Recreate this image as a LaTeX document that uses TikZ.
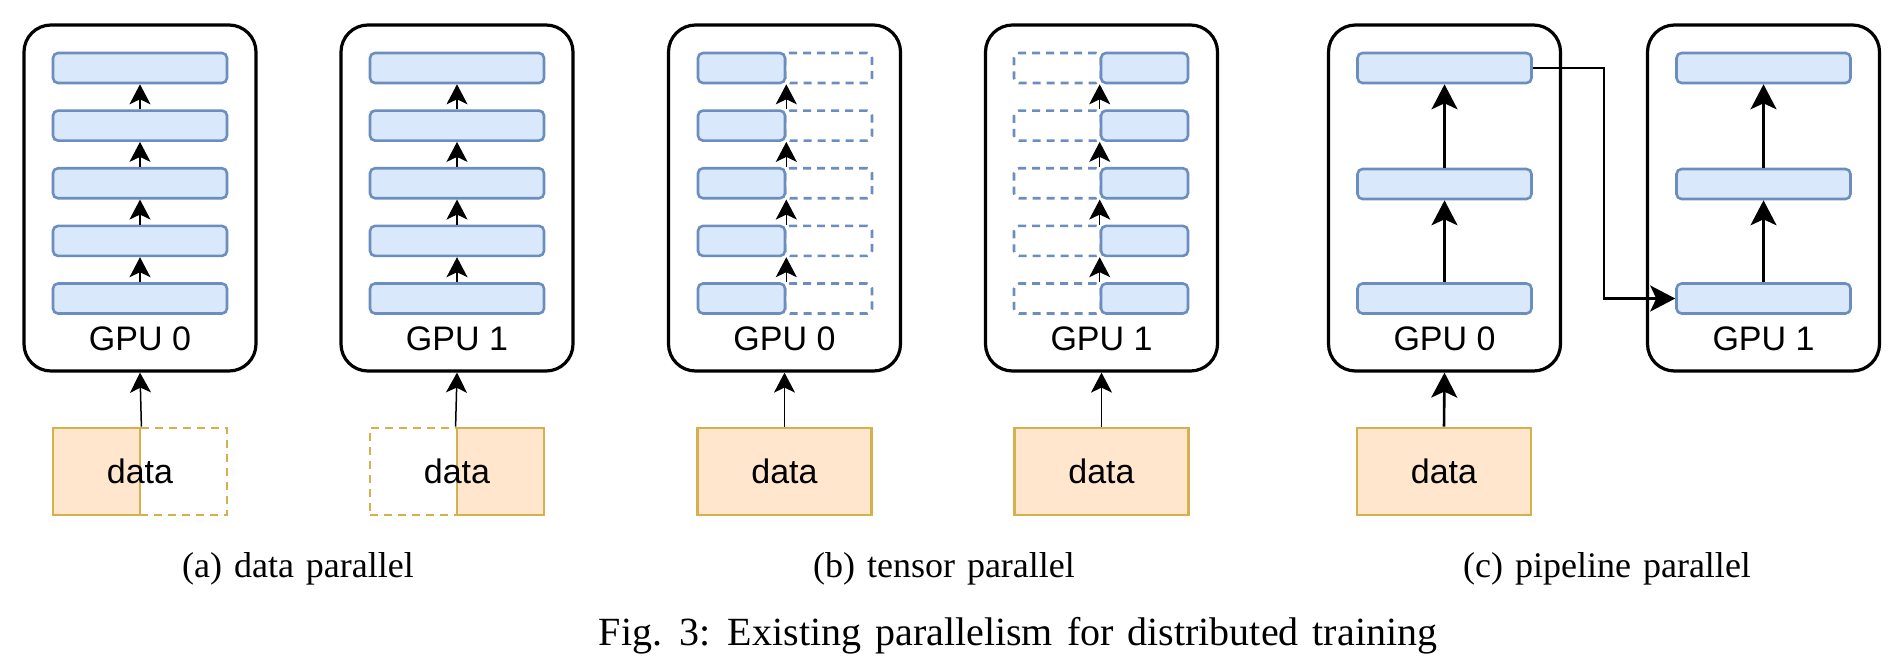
\documentclass[tikz,border=0pt]{standalone}
\usepackage{fontspec}
\setmainfont{Liberation Serif}
\newfontfamily\arialf{Liberation Sans}
\usetikzlibrary{arrows.meta}
\definecolor{lfill}{HTML}{DAE8FC}
\definecolor{ldraw}{HTML}{6C8EBF}
\definecolor{dfill}{HTML}{FFE6CC}
\definecolor{ddraw}{HTML}{D6B04E}
\newcommand\mysubcapfont{\fontsize{18}{20}\selectfont\spaceskip=6pt plus 1pt\relax}
\newcommand\mymaincapfont{\fontsize{20}{22}\selectfont\spaceskip=7pt plus 1pt\relax}
\tikzset{
  gpubox/.style={draw=black, line width=1.6pt, rounded corners=13.5pt, minimum width=116pt, minimum height=173pt, inner sep=0pt, fill=white},
  layer/.style={draw=ldraw, fill=lfill, line width=1.3pt, rounded corners=2.5pt, minimum width=87pt, minimum height=15pt, inner sep=0pt},
  halflayer/.style={layer, minimum width=43.5pt},
  ghostlayer/.style={draw=ldraw, line width=1.3pt, rounded corners=2.5pt, minimum width=43.5pt, minimum height=15pt, inner sep=0pt, dash pattern=on 4pt off 3pt},
  databox/.style={draw=ddraw, fill=dfill, line width=1.4pt, minimum width=87pt, minimum height=43.5pt, inner sep=0pt, font=\arialf\fontsize{17}{19}\selectfont},
  halfdata/.style={draw=ddraw, fill=dfill, line width=1.4pt, minimum width=43.5pt, minimum height=43.5pt, inner sep=0pt},
  ghostdata/.style={draw=ddraw, line width=1.4pt, minimum width=43.5pt, minimum height=43.5pt, inner sep=0pt, dash pattern=on 4pt off 3pt},
  lbl/.style={font=\arialf\fontsize{17}{19}\selectfont, inner sep=0pt},
  arr/.style={-{Stealth[length=10pt,width=10.5pt,inset=2.5pt]}, line width=0.75pt},
  arrc/.style={-{Stealth[length=12.5pt,width=13pt,inset=3pt]}, line width=1.3pt},
  subcap/.style={font=\mysubcapfont, inner sep=0pt, anchor=base},
  maincap/.style={font=\mymaincapfont, inner sep=0pt, anchor=base}
}
\begin{document}
\begin{tikzpicture}[x=0.5pt, y=-0.5pt]
\useasboundingbox (0,0) rectangle (1893,665);

% ---------- (a) data parallel ----------
\foreach \g/\cx in {a0/140, a1/457} {
  \node[gpubox] (\g) at (\cx,198) {};
  \foreach \i/\cy in {1/68, 2/125.6, 3/183.25, 4/240.9, 5/298.5}
    \node[layer] (\g l\i) at (\cx,\cy) {};
  \foreach \i/\j in {5/4, 4/3, 3/2, 2/1}
    \draw[arr] (\g l\i.north) -- (\g l\j.south);
}
\node[lbl] (a0t) at (140,339) {GPU 0};
\node[lbl] (a1t) at (457,339) {GPU 1};

\node[ghostdata] (a0g) at (183.5,471.5) {};
\node[halfdata] (a0d) at (96.5,471.5) {};
\node[lbl] (a0dt) at (140,471) {data};
\draw[arr] (a0d.north east) -- (a0.south);

\node[ghostdata] (a1g) at (413.5,471.5) {};
\node[halfdata] (a1d) at (500.5,471.5) {};
\node[lbl] (a1dt) at (457,471) {data};
\draw[arr] (a1d.north west) -- (a1.south);

\node[subcap] (capa) at (298,577) {(a) data parallel};

% ---------- (b) tensor parallel ----------
\node[gpubox] (b0) at (784.5,198) {};
\node[gpubox] (b1) at (1101.5,198) {};
\foreach \i/\cy in {1/68, 2/125.6, 3/183.25, 4/240.9, 5/298.5} {
  \node[ghostlayer] (b0g\i) at (828.5,\cy) {};
  \node[halflayer] (b0s\i) at (741.5,\cy) {};
  \node[ghostlayer] (b1g\i) at (1057.5,\cy) {};
  \node[halflayer] (b1s\i) at (1144.5,\cy) {};
}
\foreach \i/\j in {5/4, 4/3, 3/2, 2/1} {
  \draw[arr] (b0s\i.north east) -- (b0s\j.south east);
  \draw[arr] (b1s\i.north west) -- (b1s\j.south west);
}
\node[lbl] (b0t) at (784.5,339) {GPU 0};
\node[lbl] (b1t) at (1101.5,339) {GPU 1};
\node[databox] (b0d) at (784.5,471.5) {data};
\node[databox] (b1d) at (1101.5,471.5) {data};
\draw[arr] (b0d.north) -- (b0.south);
\draw[arr] (b1d.north) -- (b1.south);

\node[subcap] (capb) at (944,577) {(b) tensor parallel};

% ---------- (c) pipeline parallel ----------
\node[gpubox] (c0) at (1444.5,198) {};
\node[gpubox] (c1) at (1763.5,198) {};
\foreach \g/\cx in {c0/1444.5, c1/1763.5} {
  \foreach \i/\cy in {1/68, 2/184, 3/298.5}
    \node[layer] (\g l\i) at (\cx,\cy) {};
  \draw[arrc] (\g l3.north) -- (\g l2.south);
  \draw[arrc] (\g l2.north) -- (\g l1.south);
}
\node[lbl] (c0t) at (1444.5,339) {GPU 0};
\node[lbl] (c1t) at (1763.5,339) {GPU 1};
\node[databox] (c0d) at (1444,471.5) {data};
\draw[arrc] (c0d.north) -- (c0.south);
\draw[arrc] (c0l1.east) -- ++(71,0) |- (c1l3.west);

\node[subcap] (capc) at (1607,577) {(c) pipeline parallel};

% ---------- main caption ----------
\node[maincap] (fig) at (1018,645) {Fig. 3: Existing parallelism for distributed training};
\end{tikzpicture}
\end{document}
